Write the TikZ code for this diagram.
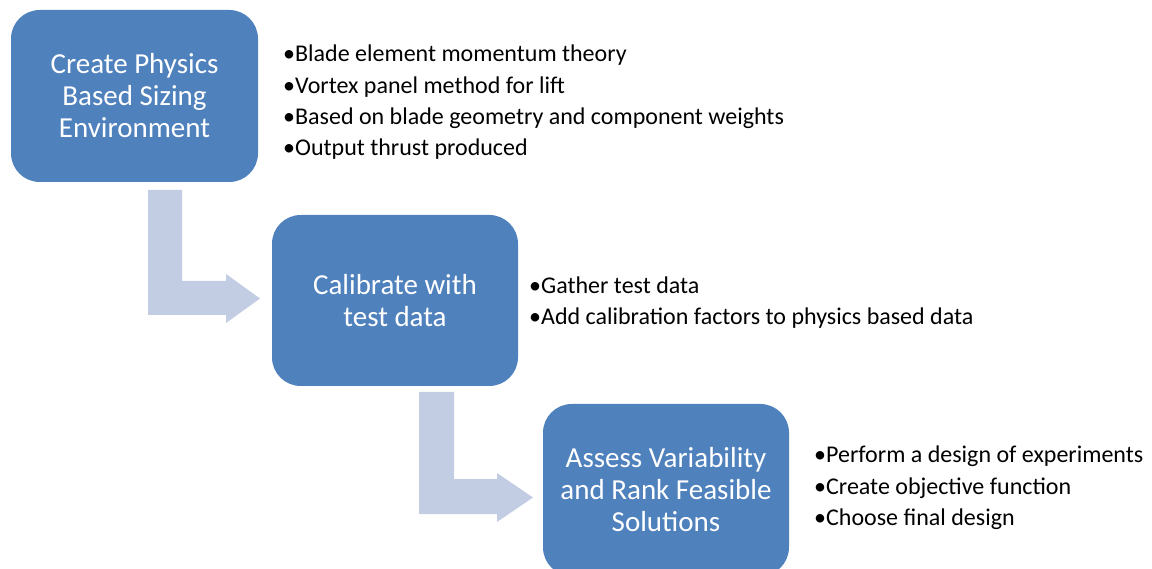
\documentclass[tikz,border=0pt]{standalone}
\usepackage{fontspec}
\setmainfont{Carlito}
\definecolor{boxblue}{HTML}{4F81BD}
\definecolor{arrowblue}{HTML}{C2CDE3}
\begin{document}
\begin{tikzpicture}[x=1pt,y=-1pt,
  stepbox/.style={fill=boxblue,draw=none,rounded corners=28.7pt,text=white,align=center,
    font=\fontsize{29}{32}\selectfont,inner sep=0pt},
  bullets/.style={anchor=west,align=left,inner sep=0pt,text=black,
    font=\fontsize{24}{31.3}\selectfont},
  bentarrow/.style={fill=arrowblue,draw=none}]
\useasboundingbox (0,0) rectangle (1152,569);
\clip (0,0) rectangle (1152,569);
\node[stepbox,minimum width=247pt,minimum height=172pt] (b1) at (134.5,96) {Create Physics\\Based Sizing\\Environment};
\node[stepbox,minimum width=246pt,minimum height=171pt] (b2) at (395,300.5) {Calibrate with\\test data};
\node[stepbox,minimum width=246pt,minimum height=172pt] (b3) at (666,490) {Assess Variability\\and Rank Feasible\\Solutions};
\node[bullets] (l1) at (283,102.5) {•Blade element momentum theory\\•Vortex panel method for lift\\•Based on blade geometry and component weights\\•Output thrust produced};
\node[bullets] (l2) at (529,302.5) {•Gather test data\\•Add calibration factors to physics based data};
\node[bullets] (l3) at (814,488) {•Perform a design of experiments\\•Create objective function\\•Choose final design};
\fill[bentarrow] (148,190) -- (182,190) -- (182,281) -- (226,281) -- (226,274) -- (260,298.5) -- (226,323) -- (226,315) -- (148,315) -- cycle;
\fill[bentarrow] (419,392) -- (454,392) -- (454,479) -- (497,479) -- (497,473) -- (533,497.5) -- (497,522) -- (497,514) -- (419,514) -- cycle;
\end{tikzpicture}
\end{document}
